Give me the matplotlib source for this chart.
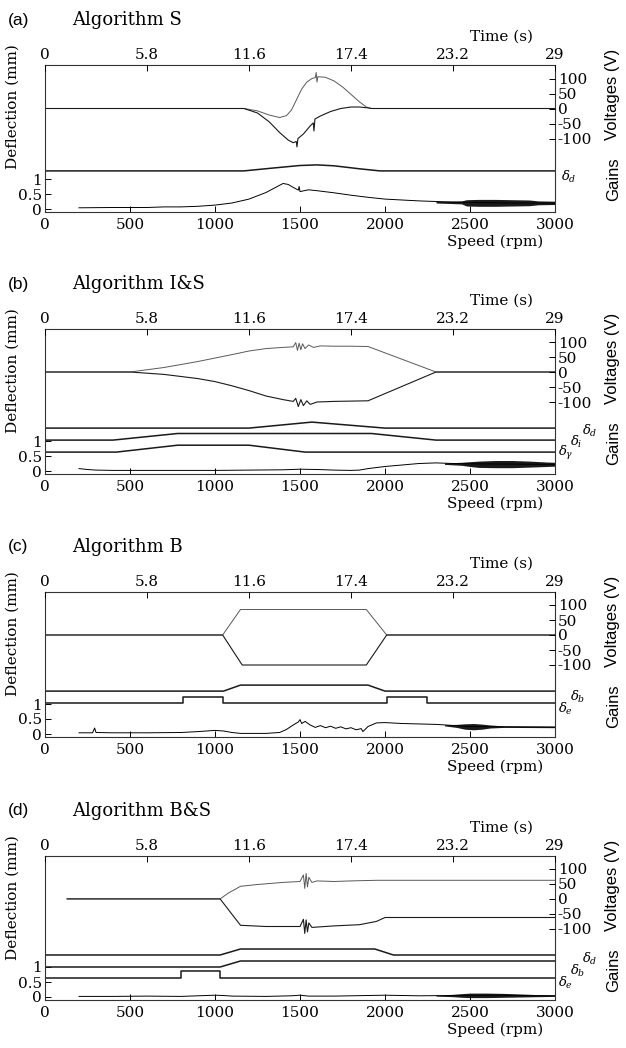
import numpy as np
import matplotlib
matplotlib.use('Agg')
from matplotlib import pyplot as plt

plt.rcParams['font.family'] = 'DejaVu Serif'
plt.rcParams['mathtext.fontset'] = 'dejavuserif'

W, H = 626, 1048
SANS = 'Liberation Sans'

SPEED_TICKS = [0, 500, 1000, 1500, 2000, 2500, 3000]
TIME_TICKS = [0, 5.8, 11.6, 17.4, 23.2, 29]
TIME_LABELS = ['0', '5.8', '11.6', '17.4', '23.2', '29']
VOLT_TICKS = [100, 50, 0, -50, -100]
GAIN_TICKS = [0, 0.5, 1]

# ---- (a) Algorithm S : (rpm, volts) / (rpm, gain) / (rpm, mm)
A_VUP = [(0, 0), (1170, 0), (1250, -8), (1320, -22), (1380, -30), (1420, -24),
         (1450, -5), (1480, 30), (1510, 65), (1540, 88), (1570, 100), (1590, 103),
         (1595, 120), (1600, 88), (1605, 106), (1650, 104), (1700, 92), (1750, 72),
         (1800, 47), (1850, 22), (1890, 5), (1920, 0), (3000, 0)]
A_VLO = [(0, 0), (1170, 0), (1250, -15), (1320, -45), (1380, -80), (1430, -105),
         (1460, -114), (1478, -110), (1482, -128), (1488, -100), (1520, -85),
         (1560, -58), (1578, -48), (1582, -75), (1588, -35), (1620, -25),
         (1680, -10), (1740, 0), (1800, 5), (1850, 5), (1900, 2), (1920, 0), (3000, 0)]
A_GAIN_D = [(0, 0), (1170, 0), (1350, 0.1), (1500, 0.18), (1600, 0.2),
            (1700, 0.17), (1850, 0.07), (1970, 0), (3000, 0)]
A_DEFL = [(200, 0.04), (400, 0.05), (600, 0.05), (700, 0.07), (800, 0.07), (900, 0.09),
          (1000, 0.13), (1100, 0.2), (1200, 0.33), (1300, 0.55), (1350, 0.7),
          (1400, 0.85), (1430, 0.82), (1460, 0.72), (1490, 0.63), (1495, 0.75),
          (1500, 0.58), (1550, 0.64), (1600, 0.61), (1700, 0.54), (1800, 0.46),
          (1900, 0.39), (2000, 0.33), (2200, 0.27), (2400, 0.23), (2500, 0.22),
          (2700, 0.2), (3000, 0.2)]
A_BAND_RPM = [2300, 2450, 2480, 2550, 2650, 2750, 2850, 2900, 3000]
A_BAND_LO = [0.2, 0.17, 0.1, 0.09, 0.09, 0.1, 0.11, 0.14, 0.15]
A_BAND_HI = [0.25, 0.27, 0.31, 0.32, 0.32, 0.31, 0.3, 0.27, 0.26]

# ---- (b) Algorithm I&S
B_VUP = [(0, 0), (500, 0), (700, 15), (900, 35), (1100, 58), (1200, 70), (1300, 78),
         (1400, 82), (1460, 84), (1475, 98), (1485, 72), (1495, 96), (1505, 74),
         (1515, 94), (1530, 78), (1550, 90), (1580, 82), (1620, 87), (1700, 86),
         (1800, 86), (1900, 85), (2300, 0), (3000, 0)]
B_VLO = [(0, 0), (500, 0), (700, -8), (900, -22), (1000, -32), (1100, -46),
         (1200, -62), (1300, -80), (1400, -92), (1460, -98), (1475, -88),
         (1490, -115), (1505, -92), (1520, -112), (1540, -96), (1560, -108),
         (1600, -100), (1700, -98), (1900, -96), (2300, 0), (3000, 0)]
B_GAIN_D = [(0, 0), (1200, 0), (1570, 0.2), (2000, 0), (3000, 0)]
B_GAIN_I = [(0, 0), (400, 0), (780, 0.22), (1920, 0.22), (2300, 0), (3000, 0)]
B_GAIN_G = [(0, 0), (420, 0), (780, 0.23), (1200, 0.23), (1530, 0), (3000, 0)]
B_DEFL = [(200, 0.08), (250, 0.05), (300, 0.03), (400, 0.02), (600, 0.02), (800, 0.02),
          (1000, 0.02), (1200, 0.03), (1400, 0.04), (1500, 0.06), (1600, 0.05),
          (1700, 0.03), (1800, 0.02), (1850, 0.03), (1900, 0.08), (2000, 0.15),
          (2100, 0.2), (2200, 0.25), (2300, 0.27), (2400, 0.25), (2500, 0.24),
          (3000, 0.22)]
B_BAND_RPM = [2350, 2450, 2500, 2550, 2650, 2750, 2850, 2950, 3000]
B_BAND_LO = [0.22, 0.19, 0.15, 0.12, 0.11, 0.11, 0.13, 0.15, 0.16]
B_BAND_HI = [0.27, 0.29, 0.31, 0.33, 0.35, 0.35, 0.33, 0.3, 0.29]

# ---- (c) Algorithm B
C_VUP = [(0, 0), (1045, 0), (1150, 85), (1890, 85), (2010, 0), (3000, 0)]
C_VLO = [(0, 0), (1045, 0), (1160, -100), (1890, -100), (2010, 0), (3000, 0)]
C_GAIN_B = [(0, 0), (1050, 0), (1150, 0.2), (1900, 0.2), (2000, 0), (3000, 0)]
C_GAIN_E = [(0, 0), (810, 0), (810, 0.19), (1050, 0.19), (1050, 0), (2010, 0),
            (2010, 0.19), (2250, 0.19), (2250, 0), (3000, 0)]
C_DEFL = [(200, 0.04), (280, 0.04), (292, 0.2), (300, 0.05), (400, 0.04), (600, 0.04),
          (800, 0.05), (900, 0.08), (1000, 0.12), (1050, 0.1), (1100, 0.05),
          (1150, 0.02), (1300, 0.02), (1380, 0.05), (1420, 0.15), (1460, 0.3),
          (1490, 0.4), (1500, 0.48), (1510, 0.35), (1530, 0.42), (1560, 0.3),
          (1590, 0.22), (1620, 0.28), (1650, 0.21), (1680, 0.26), (1710, 0.19),
          (1740, 0.24), (1770, 0.17), (1800, 0.21), (1830, 0.14), (1860, 0.18),
          (1870, 0.08), (1900, 0.25), (1950, 0.37), (2000, 0.38), (2100, 0.35),
          (2300, 0.32), (2500, 0.25), (2700, 0.24), (3000, 0.23)]
C_BAND_RPM = [2350, 2420, 2470, 2520, 2570, 2620, 2700, 3000]
C_BAND_LO = [0.27, 0.22, 0.16, 0.14, 0.16, 0.2, 0.22, 0.21]
C_BAND_HI = [0.31, 0.32, 0.34, 0.35, 0.33, 0.3, 0.27, 0.26]

# ---- (d) Algorithm B&S
D_VUP = [(130, 0), (1030, 0), (1080, 20), (1150, 42), (1250, 48), (1400, 55),
         (1500, 58), (1520, 80), (1528, 35), (1536, 85), (1544, 40), (1552, 72),
         (1570, 55), (1600, 60), (1700, 58), (1800, 60), (1950, 62), (3000, 62)]
D_VLO = [(130, 0), (1030, 0), (1150, -88), (1300, -92), (1500, -92), (1520, -68),
         (1528, -115), (1536, -70), (1544, -110), (1552, -80), (1570, -95),
         (1700, -90), (1850, -86), (1950, -75), (2000, -62), (3000, -62)]
D_GAIN_D = [(0, 0), (1030, 0), (1150, 0.2), (1940, 0.2), (2050, 0), (3000, 0)]
D_GAIN_B = [(0, 0), (1030, 0), (1150, 0.2), (3000, 0.2)]
D_GAIN_E = [(0, 0), (800, 0), (800, 0.23), (1030, 0.23), (1030, 0), (3000, 0)]
D_DEFL = [(200, 0.02), (400, 0.02), (600, 0.03), (800, 0.02), (900, 0.04),
          (1000, 0.06), (1050, 0.05), (1100, 0.03), (1300, 0.02), (1450, 0.04),
          (1500, 0.06), (1550, 0.03), (1700, 0.03), (1900, 0.05), (2000, 0.06),
          (2200, 0.04), (2400, 0.05), (2600, 0.06), (2800, 0.05), (3000, 0.04)]
D_BAND_RPM = [2300, 2400, 2450, 2500, 2600, 2700, 2800, 2900, 3000]
D_BAND_LO = [0.03, 0.01, -0.01, -0.02, -0.02, -0.01, 0.0, 0.01, 0.02]
D_BAND_HI = [0.06, 0.09, 0.11, 0.13, 0.13, 0.12, 0.1, 0.08, 0.07]


PANELS = [
    dict(letter='(a)', title='Algorithm S', top=65, bottom=212, v0=3.35,
         vup=A_VUP, vlo=A_VLO, gains=[(1.27, A_GAIN_D)], defl=A_DEFL,
         band=(A_BAND_RPM, A_BAND_LO, A_BAND_HI),
         labels=[(r'$\delta_d$', 561, 1.07)]),
    dict(letter='(b)', title='Algorithm I&S', top=329, bottom=474, v0=3.3,
         vup=B_VUP, vlo=B_VLO,
         gains=[(1.43, B_GAIN_D), (1.03, B_GAIN_I), (0.63, B_GAIN_G)], defl=B_DEFL,
         band=(B_BAND_RPM, B_BAND_LO, B_BAND_HI),
         labels=[(r'$\delta_\gamma$', 558, 0.6), (r'$\delta_i$', 570, 0.98),
                 (r'$\delta_d$', 582, 1.33)]),
    dict(letter='(c)', title='Algorithm B', top=592, bottom=737, v0=3.3,
         vup=C_VUP, vlo=C_VLO, gains=[(1.43, C_GAIN_B), (1.03, C_GAIN_E)], defl=C_DEFL,
         band=(C_BAND_RPM, C_BAND_LO, C_BAND_HI),
         labels=[(r'$\delta_e$', 558, 0.84), (r'$\delta_b$', 570, 1.24)]),
    dict(letter='(d)', title='Algorithm B&S', top=856, bottom=1000, v0=3.27,
         vup=D_VUP, vlo=D_VLO,
         gains=[(1.4, D_GAIN_D), (1.0, D_GAIN_B), (0.63, D_GAIN_E)], defl=D_DEFL,
         band=(D_BAND_RPM, D_BAND_LO, D_BAND_HI),
         labels=[(r'$\delta_e$', 558, 0.47), (r'$\delta_b$', 570, 0.88),
                 (r'$\delta_d$', 582, 1.27)]),
]


def xy(pairs):
    xs, ys = zip(*pairs)
    return np.array(xs, float), np.array(ys, float)


def fy(px):
    return 1 - px / H


def draw_panel(fig, p):
    top, bot = p['top'], p['bottom']
    ax = fig.add_axes([45 / W, fy(bot), 510 / W, (bot - top) / H])
    ylim = (-0.1, -0.1 + (bot - top) / 30)
    ax.set_xlim(0, 3000)
    ax.set_ylim(*ylim)

    # voltages
    x, v = xy(p['vup'])
    ax.plot(x, p['v0'] + v / 100, color='0.35', lw=0.7)
    x, v = xy(p['vlo'])
    ax.plot(x, p['v0'] + v / 100, color='0.1', lw=0.8)

    # gains
    for base, pairs in p['gains']:
        x, g = xy(pairs)
        ax.plot(x, base + g, color='0.1', lw=1.1)

    # deflection, with the dense vibration band
    x, d = xy(p['defl'])
    ax.plot(x, d, color='k', lw=0.7)
    brpm, blo, bhi = p['band']
    ax.fill_between(brpm, blo, bhi, color='0.1', lw=0)

    ax.set_xticks(SPEED_TICKS)
    ax.set_xticklabels([str(s) for s in SPEED_TICKS])
    ax.set_yticks(GAIN_TICKS)
    ax.set_yticklabels(['0', '0.5', '1'])
    ax.tick_params(direction='in', top=True, right=True, length=4, width=0.7,
                   labelsize=11)
    ax.tick_params(axis='x', pad=4)
    ax.tick_params(axis='y', pad=2)
    for sp in ax.spines.values():
        sp.set_linewidth(0.8)
        sp.set_color('0.2')

    axv = ax.twinx()
    axv.set_ylim(*ylim)
    axv.set_yticks([p['v0'] + t / 100 for t in VOLT_TICKS])
    axv.set_yticklabels([str(t) for t in VOLT_TICKS])
    axv.tick_params(direction='in', length=4, width=0.7, labelsize=11, pad=2)
    for sp in axv.spines.values():
        sp.set_visible(False)

    axt = ax.twiny()
    axt.set_xlim(0, 29)
    axt.set_xticks(TIME_TICKS)
    axt.set_xticklabels(TIME_LABELS)
    axt.tick_params(direction='in', length=4, width=0.7, labelsize=11, pad=2)
    for sp in axt.spines.values():
        sp.set_visible(False)

    for txt, px, yv in p['labels']:
        ax.text((px - 45) / 510, yv, txt, transform=ax.get_yaxis_transform(),
                ha='left', va='center', fontsize=9.5, clip_on=False)

    fig.text(8 / W, fy(top - 45), p['letter'], family=SANS, fontsize=12.5,
             va='center', ha='left')
    fig.text(72 / W, fy(top - 45), p['title'], fontsize=13, va='center', ha='left')
    fig.text(502 / W, fy(top - 28), 'Time (s)', fontsize=11, va='center', ha='center')
    fig.text(495 / W, fy(bot + 30), 'Speed (rpm)', fontsize=11, va='center', ha='center')
    fig.text(13 / W, fy(top + 42), 'Deflection (mm)', rotation=90, fontsize=11,
             va='center', ha='center')
    fig.text(613 / W, fy(top + 29), 'Voltages (V)', rotation=90, family=SANS,
             fontsize=12, va='center', ha='center')
    fig.text(614 / W, fy(top + 114), 'Gains', rotation=90, family=SANS,
             fontsize=12, va='center', ha='center')


fig = plt.figure(figsize=(W / 100, H / 100), dpi=100)
for panel in PANELS:
    draw_panel(fig, panel)
fig.savefig('out.png', dpi=100)
